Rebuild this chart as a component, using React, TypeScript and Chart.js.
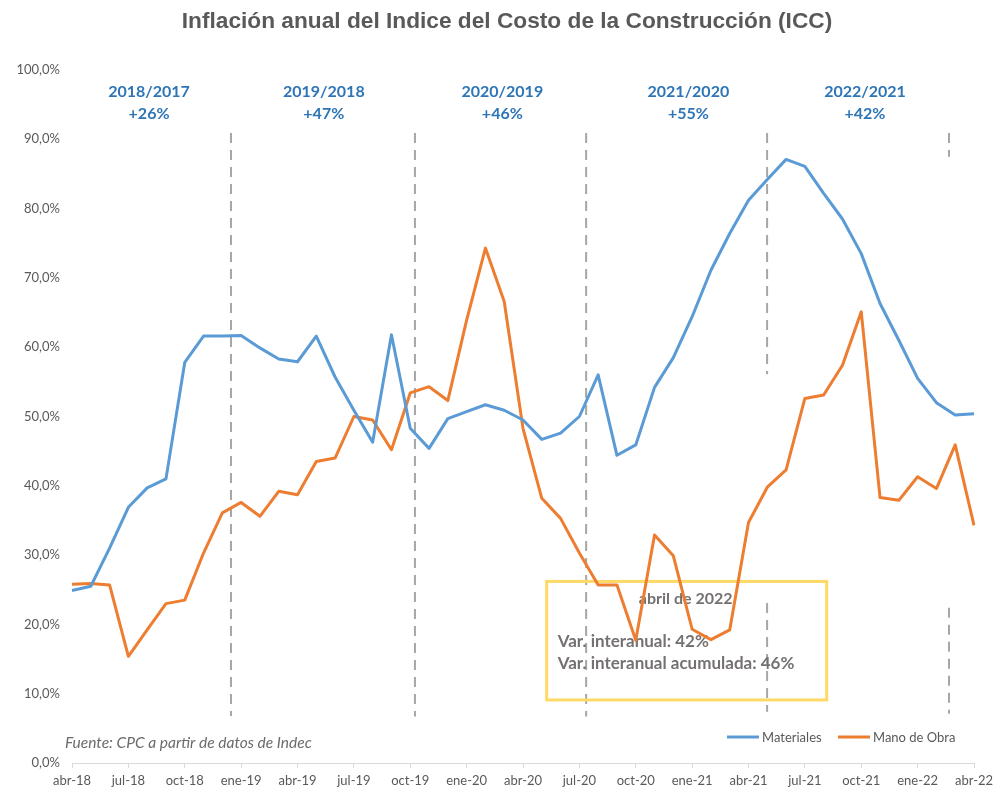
import React, { useEffect, useRef } from 'react';
import { Chart, registerables } from 'chart.js';

Chart.register(...registerables);

const months = [
  'abr-18', 'may-18', 'jun-18', 'jul-18', 'ago-18', 'sep-18', 'oct-18', 'nov-18', 'dic-18',
  'ene-19', 'feb-19', 'mar-19', 'abr-19', 'may-19', 'jun-19', 'jul-19', 'ago-19', 'sep-19', 'oct-19', 'nov-19', 'dic-19',
  'ene-20', 'feb-20', 'mar-20', 'abr-20', 'may-20', 'jun-20', 'jul-20', 'ago-20', 'sep-20', 'oct-20', 'nov-20', 'dic-20',
  'ene-21', 'feb-21', 'mar-21', 'abr-21', 'may-21', 'jun-21', 'jul-21', 'ago-21', 'sep-21', 'oct-21', 'nov-21', 'dic-21',
  'ene-22', 'feb-22', 'mar-22', 'abr-22',
];

const materiales = [
  24.9, 25.5, 31.0, 36.9, 39.7, 41.0, 57.8, 61.6, 61.6,
  61.7, 59.9, 58.3, 57.9, 61.6, 55.7, 50.9, 46.3, 61.8, 48.3, 45.4, 49.7,
  50.7, 51.7, 50.9, 49.5, 46.7, 47.6, 50.0, 56.0, 44.4, 45.9, 54.2, 58.5,
  64.4, 71.1, 76.4, 81.2, 84.2, 87.1, 86.1, 82.2, 78.5, 73.5, 66.3, 61.0,
  55.5, 52.0, 50.2, 50.4,
];

const manoDeObra = [
  25.8, 25.9, 25.7, 15.4, 19.2, 23.0, 23.5, 30.3, 36.1,
  37.6, 35.6, 39.2, 38.7, 43.5, 44.0, 50.0, 49.5, 45.2, 53.4, 54.3, 52.3,
  63.9, 74.3, 66.6, 48.3, 38.2, 35.3, 30.3, 25.7, 25.7, 17.7, 32.9, 29.9,
  19.3, 17.8, 19.2, 34.7, 39.8, 42.3, 52.6, 53.1, 57.4, 65.1, 38.3, 37.9,
  41.3, 39.6, 45.9, 34.3,
];

const seriesNames = ['Materiales', 'Mano de Obra'];
const seriesColors = ['#5B9BD5', '#ED7D31'];

const chartTitle = 'Inflación anual del Indice del Costo de la Construcción (ICC)';
const periodLabels = ['2018/2017', '2019/2018', '2020/2019', '2021/2020', '2022/2021'];
const periodValues = ['+26%', '+47%', '+46%', '+55%', '+42%'];
const periodCenters = [4.1, 13.4, 22.9, 32.8, 42.2];

const dividerMonths = [8.46, 18.25, 27.36, 36.99, 46.67];
const dividerSpans = [
  [[90.9, 6.8]],
  [[90.9, 6.7]],
  [[90.9, 6.7]],
  [[90.9, 56.1], [23.1, 7.4]],
  [[90.9, 87.5], [22.4, 7.1]],
];

const boxMonths = [25.26, 40.16];
const boxValues = [26.2, 9.1];
const boxTitle = 'abril de 2022';
const boxLines = ['Var. interanual: 42%', 'Var. interanual acumulada: 46%'];
const sourceText = 'Fuente: CPC a partir de datos de Indec';

const overlayPlugin = {
  id: 'overlay',
  beforeDatasetsDraw(chart: any) {
    const { ctx, scales } = chart;
    const x = scales.x;
    const y = scales.y;
    ctx.save();
    // dashed dividers
    ctx.strokeStyle = '#A6A6A6';
    ctx.lineWidth = 2;
    ctx.setLineDash([10, 7]);
    dividerMonths.forEach((m, i) => {
      const px = x.getPixelForValue(m);
      dividerSpans[i].forEach(([a, b]) => {
        ctx.beginPath();
        ctx.moveTo(px, y.getPixelForValue(a));
        ctx.lineTo(px, y.getPixelForValue(b));
        ctx.stroke();
      });
    });
    ctx.setLineDash([]);
    // annotation box
    const bx0 = x.getPixelForValue(boxMonths[0]);
    const bx1 = x.getPixelForValue(boxMonths[1]);
    const by0 = y.getPixelForValue(boxValues[0]);
    const by1 = y.getPixelForValue(boxValues[1]);
    ctx.strokeStyle = '#FFD966';
    ctx.lineWidth = 3;
    ctx.strokeRect(bx0, by0, bx1 - bx0, by1 - by0);
    ctx.fillStyle = '#757171';
    ctx.textBaseline = 'middle';
    ctx.font = 'bold 16px Lato';
    ctx.textAlign = 'center';
    ctx.fillText(boxTitle, (bx0 + bx1) / 2 - 1, by0 + 17);
    ctx.font = 'bold 17px Lato';
    ctx.textAlign = 'left';
    ctx.fillText(boxLines[0], bx0 + 11, by0 + 60);
    ctx.fillText(boxLines[1], bx0 + 11, by0 + 82);
    ctx.restore();
  },
  afterDraw(chart: any) {
    const { ctx, scales, chartArea } = chart;
    const x = scales.x;
    ctx.save();
    ctx.textBaseline = 'middle';
    // title
    ctx.fillStyle = '#595959';
    ctx.font = 'bold 22.7px "Liberation Sans", Arial, sans-serif';
    ctx.textAlign = 'center';
    ctx.fillText(chartTitle, 507, 22);
    // period labels
    ctx.fillStyle = '#2E75B6';
    ctx.font = 'bold 16px Lato';
    periodLabels.forEach((t, i) => {
      const px = x.getPixelForValue(periodCenters[i]);
      ctx.fillText(t, px, chartArea.top + 22);
      ctx.fillText(periodValues[i], px, chartArea.top + 44);
    });
    // source
    ctx.fillStyle = '#6B6B6B';
    ctx.font = 'italic 15.5px Lato';
    ctx.textAlign = 'left';
    ctx.fillText(sourceText, 65, 743);
    // legend
    const legendX = [727, 838];
    ctx.font = '13px Lato';
    seriesNames.forEach((name, i) => {
      ctx.strokeStyle = seriesColors[i];
      ctx.lineWidth = 3;
      ctx.beginPath();
      ctx.moveTo(legendX[i], 737);
      ctx.lineTo(legendX[i] + 32, 737);
      ctx.stroke();
      ctx.fillStyle = '#595959';
      ctx.fillText(name, legendX[i] + 35, 738);
    });
    ctx.restore();
  },
};

export default function App() {
  const canvasRef = useRef<HTMLCanvasElement | null>(null);

  useEffect(() => {
    if (!canvasRef.current) return;
    const chart = new Chart(canvasRef.current, {
      type: 'line',
      data: {
        labels: months,
        datasets: [
          {
            label: seriesNames[0],
            data: materiales,
            borderColor: seriesColors[0],
            backgroundColor: seriesColors[0],
            borderWidth: 3,
            pointRadius: 0,
            tension: 0,
            borderJoinStyle: 'round',
          },
          {
            label: seriesNames[1],
            data: manoDeObra,
            borderColor: seriesColors[1],
            backgroundColor: seriesColors[1],
            borderWidth: 3,
            pointRadius: 0,
            tension: 0,
            borderJoinStyle: 'round',
          },
        ],
      },
      options: {
        responsive: false,
        animation: false,
        devicePixelRatio: 1,
        layout: { padding: { left: 0, right: 21, top: 70, bottom: 0 } },
        plugins: {
          legend: { display: false },
          title: { display: false },
          tooltip: { enabled: false },
        },
        scales: {
          x: {
            type: 'category',
            offset: false,
            afterFit: (s: any) => {
              s.height = 25;
              s.paddingLeft = 0;
              s.paddingRight = 0;
            },
            grid: {
              display: true,
              drawOnChartArea: false,
              drawTicks: true,
              tickLength: 5,
              color: '#D9D9D9',
            },
            border: { display: true, color: '#D9D9D9', width: 1 },
            ticks: {
              autoSkip: false,
              maxRotation: 0,
              minRotation: 0,
              padding: 5,
              color: '#595959',
              font: { family: 'Lato', size: 13 },
              callback: (_v: any, i: number) => (i % 3 === 0 ? months[i] : null),
            },
          },
          y: {
            min: 0,
            max: 100,
            afterFit: (s: any) => {
              s.width = 72;
              s.paddingTop = 0;
              s.paddingBottom = 0;
            },
            grid: { display: false, drawTicks: false },
            border: { display: false },
            ticks: {
              stepSize: 10,
              padding: 12,
              color: '#595959',
              font: { family: 'Lato', size: 13 },
              callback: (v: any) => Number(v).toFixed(1).replace('.', ',') + '%',
            },
          },
        },
      },
      plugins: [overlayPlugin],
    } as any);
    return () => chart.destroy();
  }, []);

  return (
    <div style={{ position: 'absolute', left: 0, top: 0, width: 995, height: 788, background: '#fff' }}>
      <canvas ref={canvasRef} width={995} height={788} />
    </div>
  );
}
